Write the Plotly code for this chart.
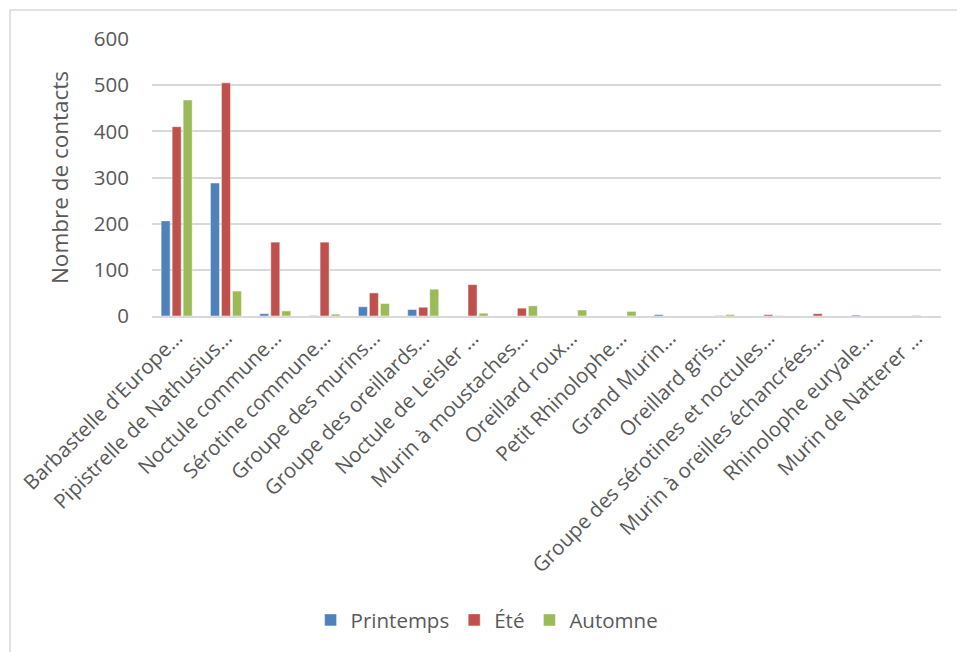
import plotly.graph_objects as go

# Species (category labels as shown on the axis)
especes = [
    "Barbastelle d'Europe…",
    "Pipistrelle de Nathusius…",
    "Noctule commune…",
    "Sérotine commune…",
    "Groupe des murins…",
    "Groupe des oreillards…",
    "Noctule de Leisler …",
    "Murin à moustaches…",
    "Oreillard roux…",
    "Petit Rhinolophe…",
    "Grand Murin…",
    "Oreillard gris…",
    "Groupe des sérotines et noctules…",
    "Murin à oreilles échancrées…",
    "Rhinolophe euryale…",
    "Murin de Natterer …",
]

# Number of contacts per season
printemps = [206, 288, 5, 1, 20, 14, 0, 0, 0, 0, 3, 0, 0, 0, 2, 0]
ete = [410, 505, 160, 160, 50, 19, 68, 17, 0, 0, 0, 1, 3, 5, 0, 1]
automne = [468, 54, 11, 4, 27, 58, 6, 22, 13, 10, 0, 3, 1, 0, 0, 0]

y_ticks = [0, 100, 200, 300, 400, 500, 600]

FONT = "Open Sans"
TXT = "#595959"
GRID = "#d9d9d9"

fig = go.Figure()
for name, vals, col in [
    ("Printemps", printemps, "#4f81bd"),
    ("Été", ete, "#c0504d"),
    ("Automne", automne, "#9bbb59"),
]:
    fig.add_trace(go.Bar(
        x=especes, y=vals, name=name,
        marker=dict(color=col, line=dict(color="rgba(255,255,255,0.6)", width=0.8)),
    ))

fig.update_layout(
    width=957, height=652,
    margin=dict(l=152, r=16, t=39, b=336),
    paper_bgcolor="white", plot_bgcolor="white",
    barmode="group", bargap=0.33, bargroupgap=0.18,
    font=dict(family=FONT, color=TXT, size=20),
    showlegend=True,
    legend=dict(
        orientation="h", xref="container", yref="container",
        x=0.509, y=0.049, xanchor="center", yanchor="middle",
        font=dict(size=20.5, color=TXT, family=FONT),
        itemwidth=30, traceorder="normal",
    ),
    xaxis=dict(
        tickangle=-45, tickfont=dict(size=20.5, color=TXT, family=FONT),
        showline=True, linecolor=GRID, linewidth=2,
        showgrid=False, ticks="", automargin=False,
    ),
    yaxis=dict(
        range=[0, 600], tickvals=y_ticks,
        tickfont=dict(size=20.5, color=TXT, family=FONT),
        showgrid=True, gridcolor=GRID, gridwidth=1.5,
        zeroline=False, showline=False, ticks="",
        ticklabelstandoff=22, automargin=False,
        title=dict(text="Nombre de contacts", font=dict(size=22.5, color=TXT, family=FONT), standoff=18),
    ),
    shapes=[dict(
        type="rect", xref="paper", yref="paper",
        x0=-0.18, x1=1.04, y0=-1.3, y1=1.105,
        line=dict(color=GRID, width=1.5), fillcolor="rgba(0,0,0,0)", layer="below",
    )],
)

fig.write_html("out.html")
